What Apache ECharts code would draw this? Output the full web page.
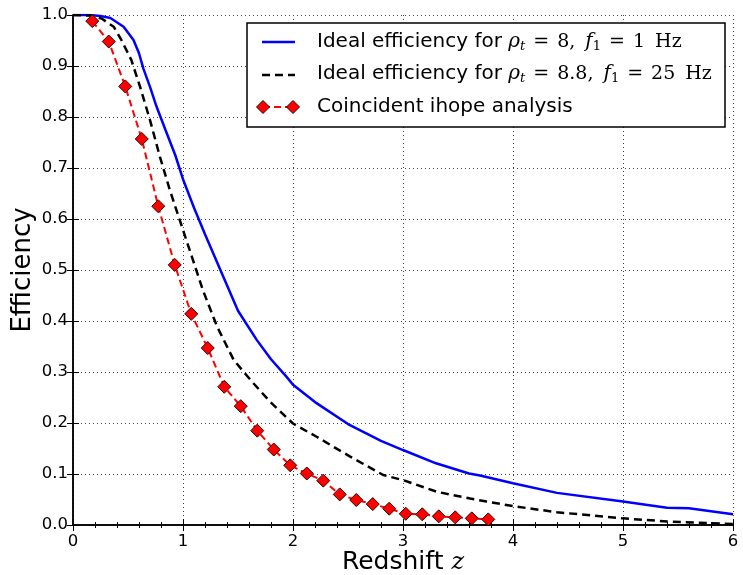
<!DOCTYPE html>
<html>
<head>
<meta charset="utf-8">
<script src="https://cdn.jsdelivr.net/npm/echarts@6/dist/echarts.min.js"></script>
<style>html,body{margin:0;padding:0;background:#fff;}#c{width:743px;height:575px;}</style>
</head>
<body>
<div id="c"></div>
<script>
// Ideal efficiency, rho_t = 8, f1 = 1 Hz
const zBlue = [0, 0.15, 0.25, 0.34, 0.46, 0.55, 0.6, 0.64, 0.7, 0.76, 0.84, 0.93, 1.0, 1.1, 1.2, 1.34, 1.5, 1.67, 1.8, 1.94, 2.0, 2.2, 2.5, 2.8, 3.0, 3.3, 3.6, 3.7, 4.0, 4.4, 5.0, 5.4, 5.6, 6.0];
const effBlue = [1.0, 1.0, 0.998, 0.994, 0.977, 0.951, 0.925, 0.895, 0.859, 0.82, 0.775, 0.725, 0.678, 0.622, 0.57, 0.5, 0.42, 0.363, 0.325, 0.291, 0.275, 0.241, 0.198, 0.165, 0.147, 0.121, 0.101, 0.097, 0.082, 0.063, 0.046, 0.034, 0.033, 0.021];
// Ideal efficiency, rho_t = 8.8, f1 = 25 Hz
const zBlack = [0, 0.15, 0.26, 0.37, 0.44, 0.53, 0.61, 0.70, 0.79, 0.88, 0.99, 1.09, 1.18, 1.31, 1.46, 1.56, 1.64, 1.79, 2.0, 2.215, 2.52, 2.82, 3.0, 3.31, 3.61, 3.76, 4.0, 4.4, 5.0, 5.4, 6.0];
const effBlack = [1.0, 0.999, 0.993, 0.977, 0.951, 0.912, 0.859, 0.794, 0.722, 0.657, 0.585, 0.52, 0.461, 0.389, 0.324, 0.298, 0.278, 0.242, 0.199, 0.173, 0.134, 0.098, 0.088, 0.065, 0.052, 0.046, 0.037, 0.025, 0.013, 0.007, 0.002];
// Coincident ihope analysis
const zIhope = [0.175, 0.325, 0.475, 0.625, 0.775, 0.925, 1.075, 1.225, 1.375, 1.525, 1.675, 1.825, 1.975, 2.125, 2.275, 2.425, 2.575, 2.725, 2.875, 3.025, 3.175, 3.325, 3.475, 3.625, 3.775];
const effIhope = [0.988, 0.948, 0.86, 0.757, 0.625, 0.51, 0.414, 0.347, 0.271, 0.233, 0.185, 0.148, 0.117, 0.101, 0.087, 0.06, 0.049, 0.041, 0.032, 0.022, 0.021, 0.017, 0.015, 0.013, 0.011];

const xTicks = [0, 1, 2, 3, 4, 5, 6];
const yTicks = [0.0, 0.1, 0.2, 0.3, 0.4, 0.5, 0.6, 0.7, 0.8, 0.9, 1.0];

const zip = (a, b) => a.map((v, i) => [v, b[i]]);

const chart = echarts.init(document.getElementById('c'), null, {renderer: 'canvas'});
const sans = 'DejaVu Sans';
const serif = 'DejaVu Serif';
const axisCommon = {
  axisLine: {show: true, lineStyle: {color: '#000', width: 1.5}},
  axisTick: {show: true, inside: true, length: 6, lineStyle: {color: '#000', width: 1}},
};
const richMath = {
  s: {fontFamily: sans, fontSize: 20, color: '#000'},
  i: {fontFamily: serif, fontStyle: 'italic', fontSize: 20, color: '#000'},
  m: {fontFamily: serif, fontSize: 19, color: '#000'},
  eq: {fontFamily: serif, fontSize: 19, color: '#000', padding: [0, 8, 0, 8]},
  sp: {fontFamily: serif, fontSize: 19, color: '#000', padding: [0, 2, 0, 2]},
  sub: {fontFamily: serif, fontStyle: 'italic', fontSize: 13, color: '#000', padding: [10, 0, 0, 0]},
  subn: {fontFamily: serif, fontSize: 13, color: '#000', padding: [10, 0, 0, 0]}
};
const option = {
  animation: false,
  backgroundColor: '#fff',
  grid: {left: 73, right: 10, top: 15, bottom: 50, containLabel: false, outerBoundsMode: 'none'},
  xAxis: [
    Object.assign({
      type: 'value', min: xTicks[0], max: xTicks[xTicks.length - 1], interval: 1,
      position: 'bottom',
      minorTick: {show: true, splitNumber: 5, length: 3, lineStyle: {color: '#000', width: 1}},
      axisLabel: {color: '#000', fontFamily: sans, fontSize: 16.5, margin: 8},
      splitLine: {show: true, lineStyle: {color: '#444', width: 1, type: [1, 3]}},
      name: '{a|Redshift }{z|z}', nameLocation: 'middle', nameGap: 25, nameMoveOverlap: false,
      nameTextStyle: {rich: {a: {fontFamily: sans, fontSize: 25, color: '#000'}, z: {fontFamily: serif, fontStyle: 'italic', fontSize: 24, color: '#000'}}}
    }, axisCommon),
    Object.assign({
      type: 'value', min: xTicks[0], max: xTicks[xTicks.length - 1], interval: 1,
      position: 'top',
      minorTick: {show: true, splitNumber: 5, length: 3, lineStyle: {color: '#000', width: 1}},
      axisLabel: {show: false}, splitLine: {show: false}
    }, axisCommon)
  ],
  yAxis: [
    Object.assign({
      type: 'value', min: yTicks[0], max: yTicks[yTicks.length - 1], interval: 0.1,
      position: 'left',
      axisLabel: {color: '#000', fontFamily: sans, fontSize: 16.5, margin: 5, formatter: v => v.toFixed(1)},
      splitLine: {show: true, lineStyle: {color: '#444', width: 1, type: [1, 3]}},
      name: 'Efficiency', nameLocation: 'middle', nameGap: 37, nameRotate: 90, nameMoveOverlap: false,
      nameTextStyle: {fontFamily: sans, fontSize: 26, color: '#000'}
    }, axisCommon),
    Object.assign({
      type: 'value', min: yTicks[0], max: yTicks[yTicks.length - 1], interval: 0.1,
      position: 'right',
      axisLabel: {show: false}, splitLine: {show: false}
    }, axisCommon)
  ],
  series: [
    {type: 'line', name: 'blue', data: zip(zBlue, effBlue), showSymbol: false, symbol: 'none',
     lineStyle: {color: '#0000ff', width: 2.5}, z: 3},
    {type: 'line', name: 'black', data: zip(zBlack, effBlack), showSymbol: false, symbol: 'none',
     lineStyle: {color: '#000', width: 2.5, type: [8, 5]}, z: 4},
    {type: 'line', name: 'ihope', data: zip(zIhope, effIhope), symbol: 'diamond', symbolSize: 13,
     lineStyle: {color: '#ff0000', width: 2, type: [7, 4]},
     itemStyle: {color: '#ff0000', borderColor: '#300', borderWidth: 1}, z: 5}
  ],
  graphic: [
    {type: 'rect', shape: {x: 247, y: 23, width: 478, height: 104}, style: {fill: '#fff', stroke: '#000', lineWidth: 1.5}, z: 100},
    {type: 'line', shape: {x1: 262, y1: 42, x2: 295, y2: 42}, style: {stroke: '#0000ff', lineWidth: 2.5}, z: 101},
    {type: 'line', shape: {x1: 262, y1: 75, x2: 295, y2: 75}, style: {stroke: '#000', lineWidth: 2.5, lineDash: [8, 5]}, z: 101},
    {type: 'line', shape: {x1: 263, y1: 107, x2: 293, y2: 107}, style: {stroke: '#ff0000', lineWidth: 2, lineDash: [7, 4]}, z: 101},
    {type: 'polygon', shape: {points: [[263, 100.5], [269.5, 107], [263, 113.5], [256.5, 107]]}, style: {fill: '#ff0000', stroke: '#300', lineWidth: 1}, z: 102},
    {type: 'polygon', shape: {points: [[293, 100.5], [299.5, 107], [293, 113.5], [286.5, 107]]}, style: {fill: '#ff0000', stroke: '#300', lineWidth: 1}, z: 102},
    {type: 'text', x: 317, y: 42, z: 101, style: {
      text: '{s|Ideal efficiency for }{i|ρ}{sub|t}{eq|=}{m|8,}{sp| }{i|f}{subn|1}{eq|=}{m|1}{sp| }{m|Hz}',
      verticalAlign: 'middle', rich: richMath
    }},
    {type: 'text', x: 317, y: 74, z: 101, style: {
      text: '{s|Ideal efficiency for }{i|ρ}{sub|t}{eq|=}{m|8.8,}{sp| }{i|f}{subn|1}{eq|=}{m|25}{sp| }{m|Hz}',
      verticalAlign: 'middle', rich: richMath
    }},
    {type: 'text', x: 317, y: 107, z: 101, style: {
      text: 'Coincident ihope analysis', verticalAlign: 'middle', fill: '#000', fontFamily: sans, fontSize: 20
    }}
  ]
};
chart.setOption(option);
</script>
</body>
</html>
